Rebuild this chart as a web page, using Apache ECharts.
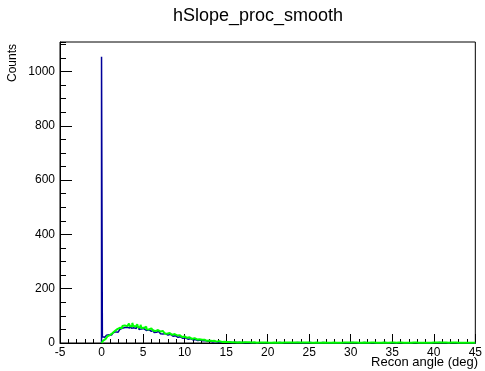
<!DOCTYPE html>
<html><head><meta charset="utf-8">
<script src="https://cdn.jsdelivr.net/npm/echarts@6/dist/echarts.min.js"></script>
<style>html,body{margin:0;padding:0;background:#fff}#c{width:485px;height:371px}</style>
</head><body><div id="c"></div>
<script>
const binWidth = 0.1;
const binStart = 0;
const xTicks = [-5, 0, 5, 10, 15, 20, 25, 30, 35, 40, 45];
const yTicks = [0, 200, 400, 600, 800, 1000];
const blueCounts = [
 1055,23,26,21,28,25,29,24,30,27,
 33,29,36,31,38,35,41,37,44,40,
 47,43,50,46,54,49,52,57,50,55,
 58,52,61,55,59,63,54,60,56,62,
 57,53,61,55,58,50,56,52,57,49,
 53,48,55,46,50,44,49,45,51,43,
 46,41,47,39,44,40,43,37,42,36,
 38,34,40,33,36,31,35,30,34,29,
 31,27,32,26,29,25,28,23,27,22,
 25,21,24,19,23,18,22,17,20,16,
 19,15,18,14,17,13,16,12,15,12,
 14,11,13,10,12,9,12,8,11,8,
 10,8,9,7,9,6,8,6,8,5,
 7,5,7,4,6,4,6,4,5,3,
 5,3,5,3,4,3,4,2,4,2,
 4,2,3,2,3,2,3,1,3,2,
 3,1,2,2,3,1,2,1,2,1,
 2,1,2,1,2,1,2,1,1,2,
 2,1,1,2,1,1,2,1,1,1,
 1,2,1,1,1,2,1,0,1,1,
 1,0,1,2,1,1,0,1,1,2,
 0,1,1,1,2,0,1,1,0,1,
 1,2,0,1,1,0,1,1,2,1,
 0,1,1,0,1,2,1,0,1,1,
 1,0,2,1,0,1,1,1,0,1,
 2,1,0,1,1,0,1,2,1,0,
 1,1,0,1,1,2,0,1,1,1,
 0,1,2,1,0,1,1,0,1,1,
 1,0,1,1,2,0,1,1,0,1,
 1,1,0,2,1,0,1,1,1,0,
 1,2,1,0,1,1,0,1,2,1,
 0,1,1,1,0,1,2,0,1,1,
 1,0,1,2,1,0,1,1,0,1,
 1,1,0,1,1,2,0,1,1,0,
 2,0,1,1,0,1,1,2,1,0,
 1,1,0,1,2,1,0,1,1,1,
 0,1,1,0,1,1,2,0,1,1,
 1,2,0,1,1,0,1,1,0,1,
 1,0,1,1,2,1,0,1,1,0,
 0,1,1,2,0,1,1,0,1,1,
 1,1,0,1,1,0,2,1,0,1,
 1,0,1,1,0,1,1,2,1,0,
 0,1,2,1,1,0,1,0,1,1,
 1,1,0,1,0,1,1,1,2,0,
 1,0,1,1,1,0,1,1,0,1
];
const greenCounts = [
 3,6,9,12,15,18,21,24,26,29,
 31,34,36,39,42,44,46,49,51,53,
 50,56,53,60,55,63,57,65,59,66,
 62,69,60,72,63,68,61,74,64,67,
 60,66,58,69,57,64,59,67,55,62,
 56,61,53,60,51,58,50,56,48,54,
 49,53,46,52,44,50,43,48,41,46,
 42,45,39,44,37,42,35,40,34,38,
 35,37,32,36,30,34,29,33,27,31,
 28,30,25,29,24,27,22,26,21,24,
 22,24,19,23,18,21,17,20,15,18,
 16,18,14,17,13,15,12,14,11,13,
 12,13,10,12,9,11,8,10,8,9,
 8,9,7,8,6,8,6,7,5,6,
 6,7,5,6,4,5,4,5,4,5,
 4,5,3,4,3,4,3,4,2,3,
 3,4,2,3,2,3,2,3,2,3,
 2,3,2,2,3,2,2,3,2,2,
 2,2,1,3,2,2,1,2,2,2,
 2,1,2,2,1,2,2,1,2,1,
 2,1,2,1,1,2,1,2,2,1,
 1,2,1,2,2,1,1,2,1,2,
 2,1,2,1,1,2,2,1,2,1,
 1,2,2,1,2,1,1,2,1,2,
 2,1,1,2,1,2,2,1,1,2,
 1,2,1,2,2,1,2,1,2,1,
 2,1,2,1,1,2,1,2,2,1,
 1,2,2,1,2,1,1,2,1,2,
 2,1,1,2,2,1,2,1,1,2,
 1,2,1,1,2,2,1,2,2,1,
 2,1,2,2,1,1,2,1,2,1,
 1,2,1,2,1,2,2,1,1,2,
 2,1,2,1,2,1,1,2,2,1,
 1,2,2,1,1,2,1,2,1,2,
 2,1,1,2,2,1,2,1,2,1,
 1,2,1,2,1,1,2,2,1,2,
 2,1,2,1,2,2,1,1,2,1,
 1,2,1,2,1,2,1,2,2,1,
 2,1,2,2,1,1,2,1,1,2,
 1,2,1,1,2,2,1,2,1,2,
 2,1,2,1,1,2,1,2,2,1,
 1,2,2,1,2,1,2,1,1,2,
 2,1,1,2,1,2,2,1,2,1,
 1,2,1,2,2,1,1,2,1,2,
 2,1,2,1,1,2,2,1,2,1
];
function histPoints(counts){
  const pts = [[binStart, 0]];
  counts.forEach((v,i)=>pts.push([+(binStart + i*binWidth).toFixed(3), v]));
  pts.push([+(binStart + counts.length*binWidth).toFixed(3), counts[counts.length-1]]);
  return pts;
}
const font = '"Liberation Sans", Arial, sans-serif';
const chart = echarts.init(document.getElementById('c'), null, {renderer:'canvas'});
chart.setOption({
  animation:false,
  backgroundColor:'#fff',
  grid:{left:60, right:8, top:42, bottom:28, show:true, borderColor:'#000', borderWidth:1, backgroundColor:'transparent'},
  graphic:[
    {type:'text', left:173, top:7, style:{text:'hSlope_proc_smooth', font:'18px '+font, fill:'#000'}},
    {type:'text', right:7, top:356, style:{text:'Recon angle (deg)', font:'13px '+font, fill:'#000'}},
    {type:'text', x:7, y:82, rotation:Math.PI/2, style:{text:'Counts', font:'12px '+font, fill:'#000', textAlign:'left', textVerticalAlign:'top'}}
  ],
  xAxis:{type:'value', min:xTicks[0], max:xTicks[xTicks.length-1], interval:5,
    axisLine:{show:true, onZero:false, lineStyle:{color:'#000', width:1}},
    axisTick:{show:true, inside:true, length:9, lineStyle:{color:'#000'}},
    minorTick:{show:true, splitNumber:5, length:4, lineStyle:{color:'#000'}},
    splitLine:{show:false},
    axisLabel:{color:'#000', fontSize:12, fontFamily:font, margin:4, formatter:v=>String(v)}
  },
  yAxis:[
    {type:'value', min:yTicks[0], max:1109, interval:200, position:'left',
    axisLine:{show:true, onZero:false, lineStyle:{color:'#000', width:1}},
    axisTick:{show:true, inside:true, length:12, lineStyle:{color:'#000'}},
    minorTick:{show:false},
    splitLine:{show:false},
    axisLabel:{color:'#000', fontSize:12, fontFamily:font, margin:5, showMaxLabel:false, formatter:v=>String(v)}
    },
    {type:'value', min:yTicks[0], max:1109, interval:50, position:'left', offset:0,
    axisLine:{show:false, onZero:false},
    axisTick:{show:true, inside:true, length:6, lineStyle:{color:'#000'}},
    splitLine:{show:false},
    axisLabel:{show:false}
    }
  ],
  series:[
    {type:'line', step:'end', data:histPoints(blueCounts), symbol:'none', lineStyle:{color:'#000099', width:1.5}, z:2},
    {type:'line', step:'end', data:histPoints(greenCounts), symbol:'none', lineStyle:{color:'#00ff00', width:2}, z:3}
  ]
});
</script></body></html>
